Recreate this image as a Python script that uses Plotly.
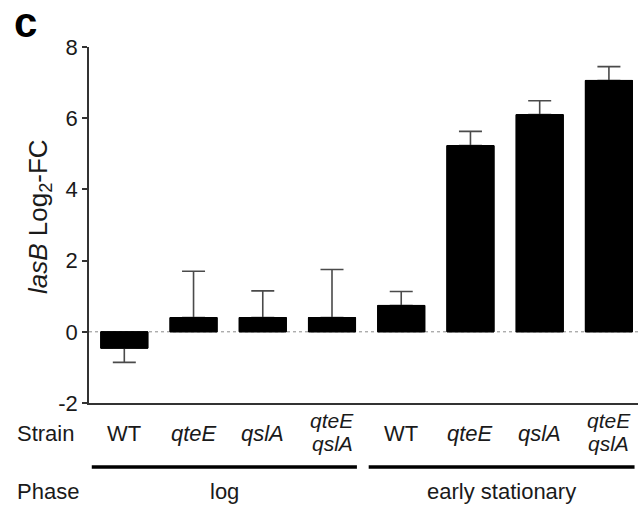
import plotly.graph_objects as go

# ---- data ----
strains = ["WT", "qteE", "qslA", "qteE<br>qslA", "WT", "qteE", "qslA", "qteE<br>qslA"]
italic = [False, True, True, True, False, True, True, True]
values = [-0.46, 0.40, 0.40, 0.40, 0.74, 5.23, 6.10, 7.06]
err_up = [0.0, 1.30, 0.75, 1.35, 0.39, 0.40, 0.39, 0.39]
err_down = [0.40, 0.0, 0.0, 0.0, 0.0, 0.0, 0.0, 0.0]
phases = ["log", "early stationary"]
phase_groups = [(0, 3), (4, 7)]
y_ticks = [-2, 0, 2, 4, 6, 8]
y_tick_text = ["-2", "0", "2", "4", "6", "8"]

# ---- layout geometry (pixels) ----
W, H = 638, 508
ML, MR, MT, MB = 89, 0, 47, 105
PH = H - MT - MB
PW = W - ML - MR


def py(p):
    """pixel y -> paper y"""
    return (H - MB - p) / PH


def px(p):
    """pixel x -> paper x"""
    return (p - ML) / PW


FONT = "Liberation Sans, Arial, sans-serif"
x = list(range(len(values)))

fig = go.Figure()
# carrier trace with error bars (its inner caps get hidden by the overlay trace)
fig.add_trace(go.Bar(
    x=x, y=values, width=0.68,
    marker=dict(color="black", line=dict(color="black", width=1)),
    error_y=dict(type="data", array=err_up, arrayminus=err_down, symmetric=False,
                 color="#4a4a4a", thickness=1.6, width=11.5),
    showlegend=False, hoverinfo="skip",
))
fig.add_trace(go.Bar(
    x=x, y=values, width=0.68,
    marker=dict(color="black", line=dict(color="black", width=1)),
    showlegend=False,
))

shapes = [
    dict(type="line", xref="paper", yref="y", x0=0, x1=1, y0=0, y1=0,
         line=dict(color="#8a8a8a", width=1, dash="dot"), layer="below"),
]
for (a, b) in phase_groups:
    shapes.append(dict(type="line", xref="x", yref="paper",
                       x0=a - 0.47, x1=b + 0.36 if a == 0 else b + 0.37,
                       y0=py(467), y1=py(467),
                       line=dict(color="black", width=3.5)))

ann = []
lab_font = dict(family=FONT, size=22, color="#1a1a1a")
small_font = dict(family=FONT, size=21, color="#1a1a1a")
ann.append(dict(text="Strain", xref="paper", yref="paper", x=px(15), y=py(433),
                xanchor="left", yanchor="middle", showarrow=False, font=lab_font))
ann.append(dict(text="Phase", xref="paper", yref="paper", x=px(15), y=py(491),
                xanchor="left", yanchor="middle", showarrow=False, font=lab_font))
for i, (s, it) in enumerate(zip(strains, italic)):
    parts = s.split("<br>")
    ys = [433] if len(parts) == 1 else [420, 443]
    f = lab_font if len(parts) == 1 else small_font
    for part, yy in zip(parts, ys):
        t = f"<i>{part}</i>" if it else part
        ann.append(dict(text=t, xref="x", yref="paper", x=i, y=py(yy),
                        xanchor="center", yanchor="middle", showarrow=False,
                        font=f))
for (a, b), ph in zip(phase_groups, phases):
    ann.append(dict(text=ph, xref="x", yref="paper", x=(a + b) / 2 - 0.05, y=py(491),
                    xanchor="center", yanchor="middle", showarrow=False, font=lab_font))
ann.append(dict(text="<b>c</b>", xref="paper", yref="paper", x=px(12), y=py(22),
                xanchor="left", yanchor="middle", showarrow=False,
                font=dict(family=FONT, size=42, color="black")))
ann.append(dict(text="<i>lasB</i> Log<sub>2</sub>-FC", xref="paper", yref="paper",
                x=px(40), y=py(217), xanchor="center", yanchor="middle",
                textangle=-90, showarrow=False,
                font=dict(family=FONT, size=26, color="#1a1a1a")))

fig.update_layout(
    width=W, height=H,
    margin=dict(l=ML, r=MR, t=MT, b=MB, pad=0),
    paper_bgcolor="white", plot_bgcolor="white",
    barmode="overlay",
    shapes=shapes, annotations=ann,
    xaxis=dict(range=[-0.51, 7.42], showticklabels=False, ticks="",
               showgrid=False, zeroline=False,
               showline=True, linecolor="#333333", linewidth=1.5),
    yaxis=dict(range=[-2, 8], tickvals=y_ticks, ticktext=y_tick_text,
               ticks="outside", ticklen=5,
               tickwidth=1.5, tickcolor="#333333",
               showgrid=False, zeroline=False, showline=True,
               linecolor="#333333", linewidth=1.5,
               tickfont=dict(family=FONT, size=22, color="#1a1a1a")),
)

fig.write_html("out.html")
